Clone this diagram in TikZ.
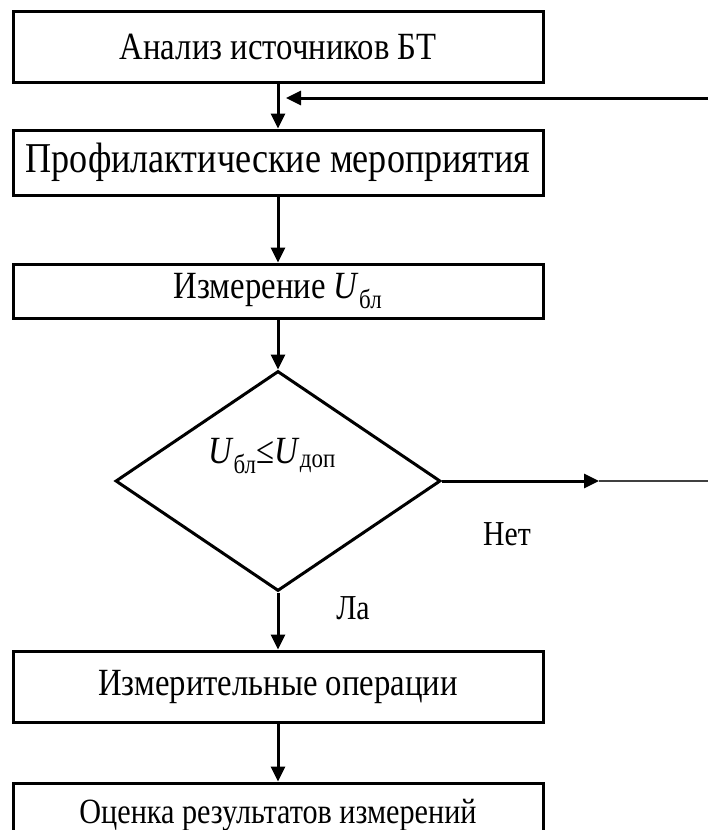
\documentclass[tikz,border=0pt]{standalone}
\usepackage{fontspec}
\setmainfont{Liberation Serif}[FakeStretch=0.85]
\usetikzlibrary{positioning,arrows.meta,calc,shapes.geometric}
\newcommand{\Uidx}[1]{\textit{U}\textsubscript{#1}}

\begin{document}
\begin{tikzpicture}[
    x=1pt, y=-1pt,
    node distance=45pt,
    >={Triangle[length=15pt, width=14pt]},
    base/.style={rectangle, draw=black, line width=3pt, minimum width=530pt,
                 inner sep=0pt, align=center},
    box/.style={base, minimum height=71pt, font=\fontsize{38.5}{44}\selectfont},
    decision/.style={diamond, draw=black, line width=3pt, inner sep=0pt,
                     minimum width=325pt, minimum height=220pt},
    lbl/.style={font=\fontsize{35}{40}\selectfont},
    flow/.style={->, draw=black, line width=3pt},
    tail/.style={draw=black!75, line width=2pt},
]
\useasboundingbox (0,0) rectangle (708,830);

% ---------------- Main path ----------------
\node[box] (src) at (278,46.5) {Анализ источников БТ};
\node[box, below=45pt of src, minimum height=65pt,
      font=\fontsize{42.5}{47}\selectfont] (prev) {Профилактические мероприятия};
\node[box, below=66pt of prev, minimum height=54pt] (meas) {Измерение \Uidx{бл}};
\node[decision, below=50pt of meas] (dec) {};
\node[lbl, font=\fontsize{38.5}{44}\selectfont] (cond) at ($(dec.center)+(-6,-25)$)
  {\Uidx{бл}≤\Uidx{доп}};
\node[box, below=57pt of dec] (ops) {Измерительные операции};
\node[box, below=58pt of ops, minimum height=64pt,
      font=\fontsize{35.5}{40}\selectfont] (eval) {Оценка результатов измерений};

\foreach \a/\b in {src/prev, prev/meas, meas/dec, dec/ops, ops/eval}
  \draw[flow] (\a) -- (\b);

% ---------------- Branches ----------------
\coordinate (back) at (708,98);
\coordinate (join) at ($(src.south |- back)+(8,0)$);
\draw[flow] (back) -- (join);

\coordinate (mid) at ($(dec.east)+(157,0)$);
\coordinate (out) at (708,0 |- dec.east);
\draw[flow] (dec.east) -- (mid);
\draw[tail] (mid) -- (out);

\node[lbl] (no) at ($(dec.east)+(65,53)$) {Нет};
\node[lbl] (yes) at ($(dec.south)+(75,16)$) {Ла};

\end{tikzpicture}
\end{document}
